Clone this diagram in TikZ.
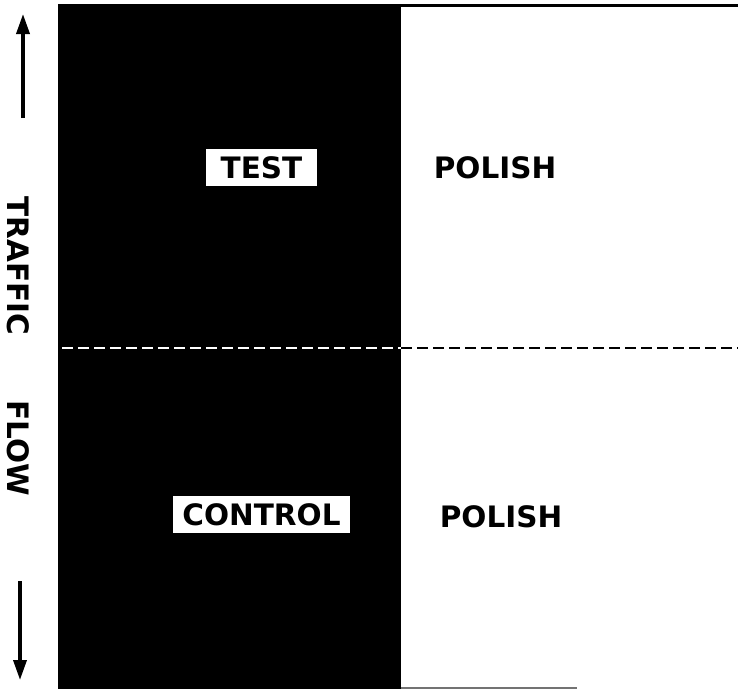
\documentclass[tikz,border=0pt]{standalone}
\usepackage{fontspec}
\setmainfont{DejaVu Sans}
\usetikzlibrary{arrows.meta}
\begin{document}
\begin{tikzpicture}[x=1pt,y=-1pt,
  lbl/.style={font=\fontsize{29.5}{29.5}\selectfont\bfseries, inner sep=0pt},
  whitebox/.style={lbl, fill=white, minimum height=37pt},
  flowarrow/.style={line width=3.5pt, -{Triangle[length=20pt,width=13pt]}},
  sidetext/.style={lbl, rotate=-90}]
\useasboundingbox (0,0) rectangle (738,689);
\fill[white] (0,0) rectangle (738,689);
% black half
\fill[black] (58,4) rectangle (401,689);
% top border on white side
\draw[line width=3pt] (400,5) -- (738,5);
% bottom border (grey)
\draw[line width=1.5pt, black!55] (401,688) -- (577,688);
% dashed divider
\draw[white, line width=2pt, dash pattern=on 11pt off 5pt] (62,348) -- (401,348);
\draw[black, line width=2pt, dash pattern=on 11pt off 5pt] (401,348) -- (738,348);
% labels
\node[whitebox, minimum width=111pt] (test) at (261.5,167.5) {TEST};
\node[whitebox, minimum width=177pt] (control) at (261.5,514.5) {CONTROL};
\node[lbl] (polish1) at (495,168) {POLISH};
\node[lbl] (polish2) at (501,517) {POLISH};
% side text
\node[sidetext] (traffic) at (18,266) {TRAFFIC};
\node[sidetext] (flow) at (18,448) {FLOW};
% arrows
\coordinate (upS) at (23,118);
\coordinate (upE) at (23,14);
\coordinate (dnS) at (20,581);
\coordinate (dnE) at (20,680);
\draw[flowarrow] (upS) -- (upE);
\draw[flowarrow] (dnS) -- (dnE);
\end{tikzpicture}
\end{document}
